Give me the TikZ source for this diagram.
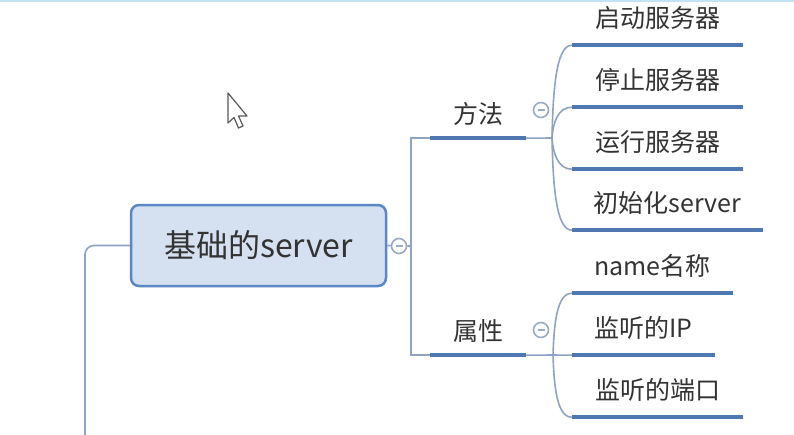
\documentclass[tikz,border=0pt]{standalone}
\usepackage{fontspec}
\newfontfamily\cjk{Noto Sans CJK SC}
\definecolor{conncol}{HTML}{8EA4C2}
\definecolor{ulcol}{HTML}{4F78B0}
\definecolor{rootfill}{HTML}{D5E1F0}
\definecolor{rootdraw}{HTML}{5A87C5}
\definecolor{txtcol}{HTML}{333333}
\definecolor{circcol}{HTML}{9AAAC2}
\definecolor{topline}{HTML}{BFE4F2}
\tikzset{
  conn/.style={draw=conncol, line width=1.6pt},
  uline/.style={draw=ulcol, line width=4pt},
  rootbox/.style={draw=rootdraw, line width=2.5pt, fill=rootfill, rounded corners=8pt,
    minimum width=255pt, minimum height=81pt, inner sep=0pt,
    font=\cjk\fontsize{32}{32}\selectfont, text=txtcol, text height=27.7pt, text depth=3.2pt},
  topic/.style={inner sep=0pt, font=\cjk\fontsize{25}{25}\selectfont, text=txtcol,
    text height=21.7pt, text depth=2.5pt},
  lvone/.style={topic, minimum height=48pt},
  lvtwo/.style={topic, minimum height=54pt},
  collapse/.style={circle, draw=circcol, line width=1.6pt, fill=white, minimum size=15pt, inner sep=0pt,
    path picture={\draw[circcol, line width=1.4pt] ([xshift=-3.5pt]path picture bounding box.center) -- ([xshift=3.5pt]path picture bounding box.center);}},
}
\begin{document}
\begin{tikzpicture}[x=1pt, y=-1pt]
\useasboundingbox[fill=white] (0,0) rectangle (794,434);
\draw[topline, line width=2.5pt] (0,1) -- (794,1);

% nodes
\node[rootbox] (root) at (258.5,245.5) {基础的server};
\node[lvone, minimum width=96pt] (fa) at (478,114) {方法};
\node[lvone, minimum width=96pt] (sx) at (478,331) {属性};
\node[lvtwo, minimum width=171pt] (t1) at (657.5,18) {启动服务器};
\node[lvtwo, minimum width=171pt] (t2) at (657.5,80) {停止服务器};
\node[lvtwo, minimum width=171pt] (t3) at (657.5,142) {运行服务器};
\node[lvtwo, minimum width=191pt] (t4) at (667.5,203) {初始化server};
\node[lvtwo, minimum width=161pt] (p1) at (652.5,266) {name名称};
\node[lvtwo, minimum width=143pt] (p2) at (643.5,328) {监听的IP};
\node[lvtwo, minimum width=171pt] (p3) at (657.5,390) {监听的端口};

\coordinate (trunk) at (411,246);
\coordinate (offL) at (85,440);
\coordinate (bfa) at (552,138);
\coordinate (bsx) at (553,355);

% connectors
\draw[conn, rounded corners=9pt] (root.west) -| (offL);
\draw[conn] (root.east) -- (trunk);
\draw[conn] (fa.south west) -| (trunk);
\draw[conn] (sx.south west) -| (trunk);
\draw[conn] (fa.south east) -- (bfa);
\draw[conn] (sx.south east) -- (bsx);
\draw[conn] (bfa) .. controls +(1,-46) and +(-16,0) .. (t1.south west);
\draw[conn] (bfa) .. controls +(1,-15) and +(-14,0) .. (t2.south west);
\draw[conn] (bfa) .. controls +(1,15) and +(-14,0) .. (t3.south west);
\draw[conn] (bfa) .. controls +(1,46) and +(-16,0) .. (t4.south west);
\draw[conn] (bsx) .. controls +(1,-31) and +(-15,0) .. (p1.south west);
\draw[conn] (bsx) -- (p2.south west);
\draw[conn] (bsx) .. controls +(1,31) and +(-15,0) .. (p3.south west);

% underlines
\foreach \n in {fa,sx,t1,t2,t3,t4,p1,p2,p3}{
  \draw[uline] (\n.south west) -- (\n.south east);
}

% collapse markers
\node[collapse] (c0) at (399,246) {};
\node[collapse] (cfa) at (541,110) {};
\node[collapse] (csx) at (541,330) {};

% mouse pointer
\draw[fill=white, draw=black!65, line width=1.2pt, line join=round]
  (228,93) -- (228,123) -- (234,117.5) -- (238.5,128) -- (243,126) -- (238.5,116) -- (247,116) -- cycle;
\end{tikzpicture}
\end{document}
